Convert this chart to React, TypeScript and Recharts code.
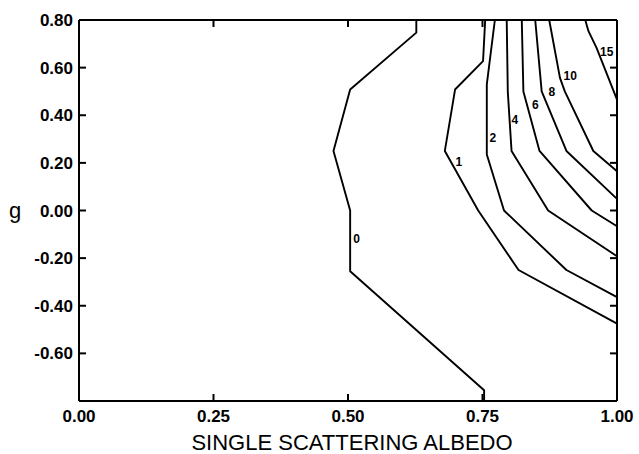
import React from "react";
import {
  ComposedChart,
  Line,
  Scatter,
  XAxis,
  YAxis,
} from "recharts";

// axis ticks
const ALBEDO_TICKS = [0, 0.25, 0.5, 0.75, 1];
const G_TICKS = [-0.8, -0.6, -0.4, -0.2, 0, 0.2, 0.4, 0.6, 0.8];

// contour lines: a = single scattering albedo, g = asymmetry
const contour0 = [
  { a: 0.627, g: 0.8 },
  { a: 0.627, g: 0.747 },
  { a: 0.504, g: 0.508 },
  { a: 0.473, g: 0.25 },
  { a: 0.504, g: 0.0 },
  { a: 0.504, g: -0.255 },
  { a: 0.753, g: -0.755 },
  { a: 0.753, g: -0.8 },
];
const contour1 = [
  { a: 0.755, g: 0.8 },
  { a: 0.751, g: 0.627 },
  { a: 0.699, g: 0.508 },
  { a: 0.68, g: 0.25 },
  { a: 0.742, g: 0.0 },
  { a: 0.817, g: -0.25 },
  { a: 1.0, g: -0.475 },
];
const contour2 = [
  { a: 0.773, g: 0.8 },
  { a: 0.758, g: 0.53 },
  { a: 0.758, g: 0.235 },
  { a: 0.79, g: 0.0 },
  { a: 0.906, g: -0.25 },
  { a: 1.0, g: -0.364 },
];
const contour4 = [
  { a: 0.795, g: 0.8 },
  { a: 0.797, g: 0.5 },
  { a: 0.804, g: 0.25 },
  { a: 0.872, g: 0.0 },
  { a: 1.0, g: -0.192 },
];
const contour6 = [
  { a: 0.823, g: 0.8 },
  { a: 0.826, g: 0.5 },
  { a: 0.856, g: 0.25 },
  { a: 0.953, g: 0.0 },
  { a: 1.0, g: -0.066 },
];
const contour8 = [
  { a: 0.848, g: 0.8 },
  { a: 0.86, g: 0.5 },
  { a: 0.906, g: 0.25 },
  { a: 1.0, g: 0.049 },
];
const contour10 = [
  { a: 0.874, g: 0.8 },
  { a: 0.894, g: 0.557 },
  { a: 0.903, g: 0.5 },
  { a: 0.956, g: 0.25 },
  { a: 1.0, g: 0.165 },
];
const contour15 = [
  { a: 0.941, g: 0.8 },
  { a: 0.947, g: 0.753 },
  { a: 0.962, g: 0.683 },
  { a: 1.0, g: 0.466 },
];

const CONTOURS = [contour0, contour1, contour2, contour4, contour6, contour8, contour10, contour15];

// level labels and where they sit on the chart
const LEVEL_LABELS = [
  { level: "0", a: 0.516, g: -0.119 },
  { level: "1", a: 0.706, g: 0.203 },
  { level: "2", a: 0.769, g: 0.305 },
  { level: "4", a: 0.81, g: 0.378 },
  { level: "6", a: 0.848, g: 0.445 },
  { level: "8", a: 0.879, g: 0.498 },
  { level: "10", a: 0.913, g: 0.564 },
  { level: "15", a: 0.981, g: 0.666 },
];

// layout
const W = 639;
const H = 454;
const LEFT = 79;
const RIGHT = 22;
const TOP = 20;
const BOTTOM = 53;
const TICK = 7;
const X_DOMAIN: [number, number] = [0, 1];
const Y_DOMAIN: [number, number] = [-0.8, 0.8];

// tick marks sit on the frame, one point per tick on each side
const bottomMarks = ALBEDO_TICKS.map((t) => ({ a: t, g: Y_DOMAIN[0] }));
const topMarks = ALBEDO_TICKS.map((t) => ({ a: t, g: Y_DOMAIN[1] }));
const leftMarks = G_TICKS.map((t) => ({ a: X_DOMAIN[0], g: t }));
const rightMarks = G_TICKS.map((t) => ({ a: X_DOMAIN[1], g: t }));

const FONT = "'Liberation Sans', Arial, Helvetica, sans-serif";
const axisLine = { stroke: "#000", strokeWidth: 2 };
const tickStyle = { fill: "#000", fontSize: 17, fontWeight: 700, fontFamily: FONT };

const fmt = (v: number) => v.toFixed(2);
const fmtG = (v: number) => (v === -0.8 ? "" : v.toFixed(2));
const blank = () => "";

const markShape = (dx: number, dy: number) => (p: any) => (
  <line x1={p.cx} y1={p.cy} x2={p.cx + dx} y2={p.cy + dy} stroke="#000" strokeWidth={2} />
);
const UpMark = markShape(0, -TICK);
const DownMark = markShape(0, TICK);
const RightwardMark = markShape(TICK, 0);
const LeftwardMark = markShape(-TICK, 0);

const LevelText = (props: any) => (
  <text
    x={props.cx}
    y={props.cy}
    dy={4}
    textAnchor="middle"
    fontSize={12}
    fontWeight={700}
    fontFamily={FONT}
    fill="#000"
  >
    {props.payload.level}
  </text>
);

export default function App() {
  return (
    <div style={{ position: "absolute", left: 0, top: 0, width: W, height: H, background: "#fff" }}>
      <ComposedChart width={W} height={H} margin={{ top: 0, right: 0, bottom: 0, left: 0 }}>
        <XAxis
          xAxisId={0}
          dataKey="a"
          type="number"
          domain={X_DOMAIN}
          ticks={ALBEDO_TICKS}
          tickFormatter={fmt}
          height={BOTTOM}
          tickLine={false}
          tickSize={0}
          tickMargin={9}
          tick={tickStyle}
          axisLine={axisLine}
          interval={0}
          label={{
            value: "SINGLE SCATTERING ALBEDO",
            position: "insideBottom",
            offset: 4,
            dx: 4,
            fill: "#000",
            fontSize: 22,
            fontFamily: FONT,
          }}
        />
        <XAxis
          xAxisId="top"
          orientation="top"
          type="number"
          domain={X_DOMAIN}
          ticks={ALBEDO_TICKS}
          tickFormatter={blank}
          height={TOP}
          tickLine={false}
          axisLine={axisLine}
          interval={0}
        />
        <YAxis
          yAxisId={0}
          dataKey="g"
          type="number"
          domain={Y_DOMAIN}
          ticks={G_TICKS}
          tickFormatter={fmtG}
          width={LEFT}
          tickLine={false}
          tickSize={0}
          tickMargin={6}
          tick={tickStyle}
          axisLine={axisLine}
          interval={0}
          label={{
            value: "g",
            position: "insideLeft",
            offset: 9,
            fill: "#000",
            fontSize: 22,
            fontFamily: FONT,
          }}
        />
        <YAxis
          yAxisId="right"
          orientation="right"
          type="number"
          domain={Y_DOMAIN}
          ticks={G_TICKS}
          tickFormatter={blank}
          width={RIGHT}
          tickLine={false}
          axisLine={axisLine}
          interval={0}
        />
        {CONTOURS.map((c, i) => (
          <Line
            key={`contour-${i}`}
            data={c}
            dataKey="g"
            type="linear"
            stroke="#000"
            strokeWidth={1.9}
            strokeLinejoin="round"
            dot={false}
            activeDot={false}
            isAnimationActive={false}
          />
        ))}
        <Scatter data={bottomMarks} dataKey="g" shape={UpMark} isAnimationActive={false} />
        <Scatter data={topMarks} dataKey="g" shape={DownMark} isAnimationActive={false} />
        <Scatter data={leftMarks} dataKey="g" shape={RightwardMark} isAnimationActive={false} />
        <Scatter data={rightMarks} dataKey="g" shape={LeftwardMark} isAnimationActive={false} />
        <Scatter data={LEVEL_LABELS} dataKey="g" shape={LevelText} isAnimationActive={false} />
      </ComposedChart>
    </div>
  );
}
